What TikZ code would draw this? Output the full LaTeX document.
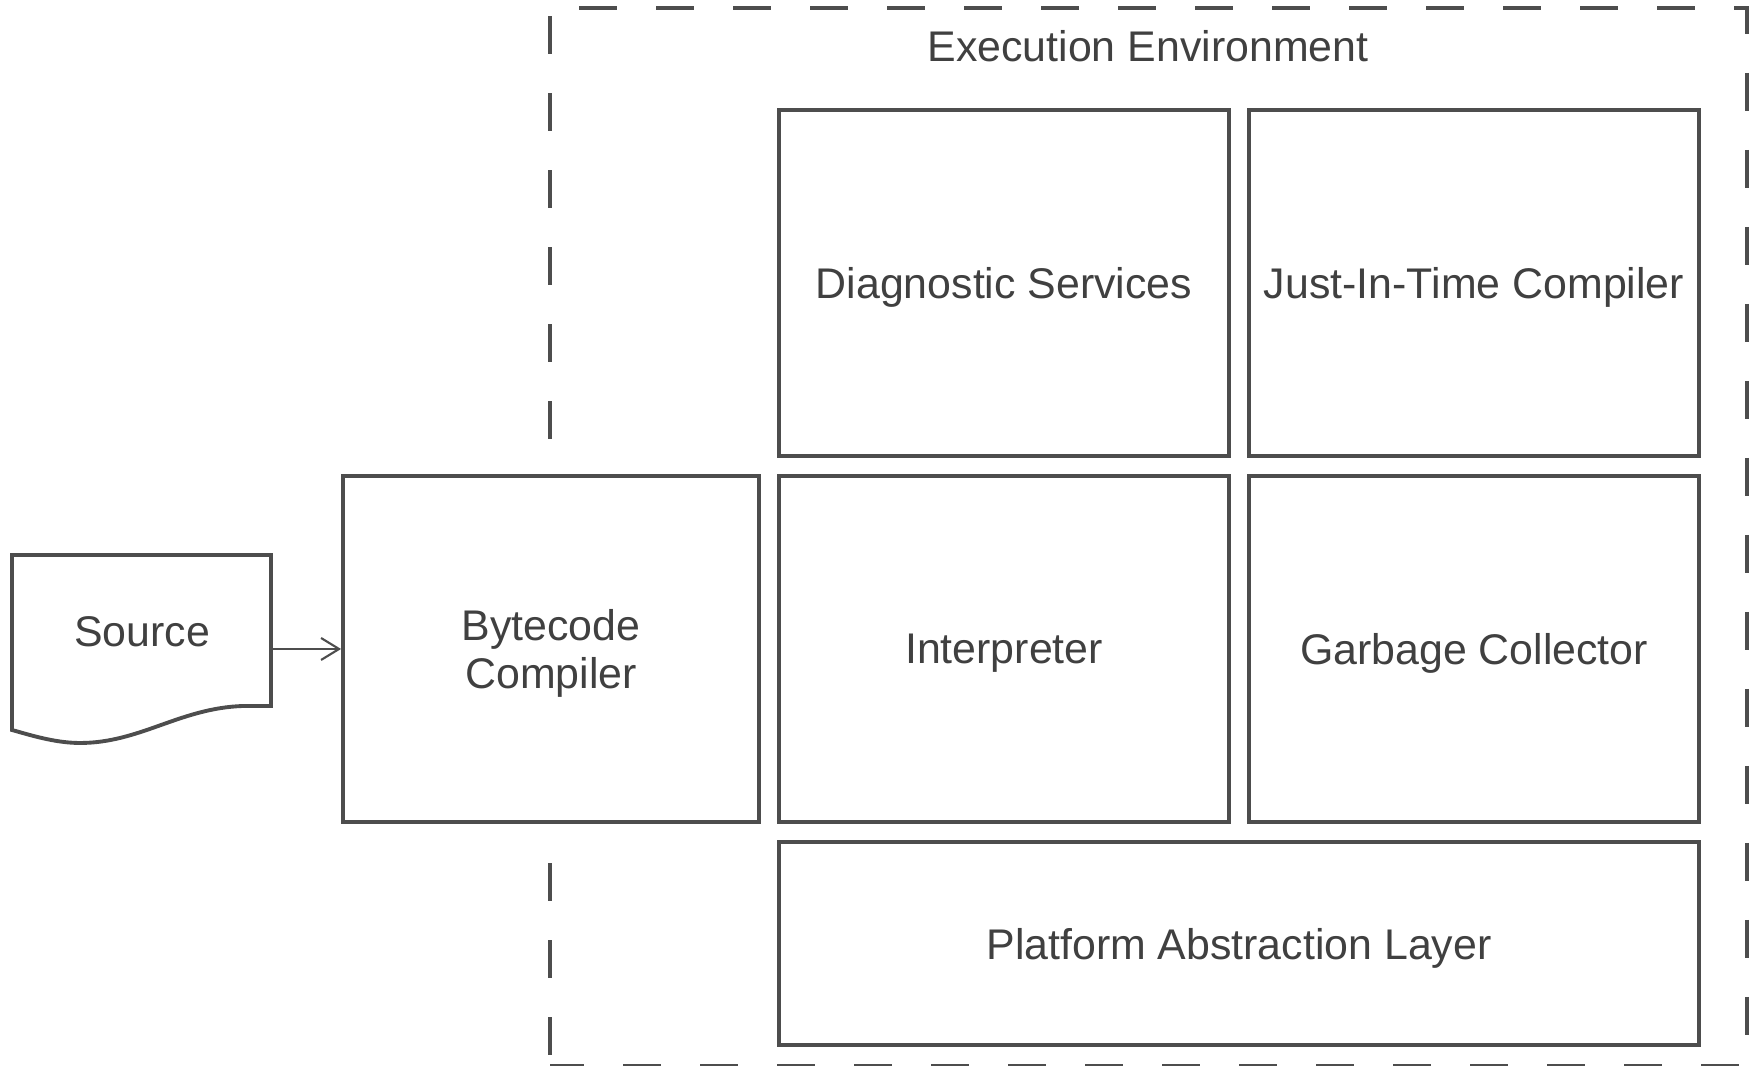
\documentclass[tikz,border=0pt]{standalone}
\usepackage{fontspec}
\setmainfont{Liberation Sans}
\usetikzlibrary{arrows.meta}
\definecolor{linegray}{HTML}{4D4D4D}
\definecolor{textgray}{HTML}{404040}
\tikzset{
  txt/.style={text=textgray, font=\fontsize{12.2}{13.7}\selectfont, align=center, text depth=0pt},
  block/.style={txt, draw=linegray, line width=1.1pt, fill=white, minimum width=4.5cm, minimum height=3.46cm},
  envline/.style={draw=linegray, line width=1.1pt, dash pattern=on 0.38cm off 0.39cm},
}
\begin{document}
\begin{tikzpicture}
\useasboundingbox (0,0) rectangle (17.5,10.66);

% Execution environment frame
\node[minimum width=11.95cm, minimum height=10.56cm, inner sep=0pt] (env) at (11.485,5.29) {};
\draw[envline, dash phase=0.48cm] (env.north west) -- (env.north east) -- (env.south east) -- (env.south west);
\draw[envline, dash phase=0.66cm] (env.south west) -- (env.north west);
\node[txt] (envlabel) at (11.48,10.20) {Execution Environment};

% Runtime blocks
\node[block] (diag) at (10.04,7.83) {Diagnostic Services};
\node[block] (jit) at (14.74,7.83) {Just-In-Time Compiler};
\node[block] (interp) at (10.04,4.17) {Interpreter};
\node[block] (gc) at (14.74,4.17) {Garbage Collector};
\node[block, minimum width=9.2cm, minimum height=2.03cm] (pal) at (12.39,1.225) {Platform Abstraction Layer};
\node[block, minimum width=4.16cm] (bcc) at (5.51,4.17) {Bytecode\\Compiler};

% Source document
\node[minimum width=2.59cm, minimum height=1.88cm, inner sep=0pt] (src) at (1.415,4.17) {};
\draw[draw=linegray, line width=1.1pt, fill=white] (0.12,5.11) -- (2.71,5.11) -- (2.71,3.60) -- (2.43,3.60)
  .. controls (1.80,3.58) and (1.40,3.23) .. (0.80,3.23)
  .. controls (0.55,3.23) and (0.30,3.31) .. (0.12,3.36) -- cycle;
\node[txt] (srctext) at (1.42,4.34) {Source};

\draw[draw=linegray, line width=0.6pt, -{Straight Barb[length=1.8mm,width=2.2mm]}] (src.east) -- (bcc.west);
\end{tikzpicture}
\end{document}
